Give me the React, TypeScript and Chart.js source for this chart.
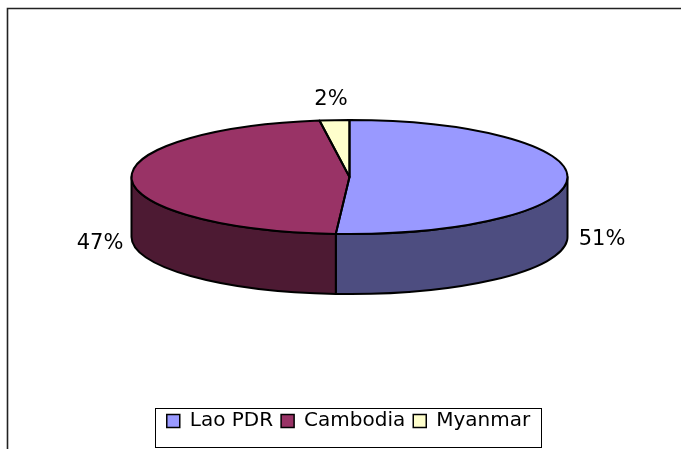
import React, { useEffect, useRef } from "react";
import { Chart, registerables } from "chart.js";

Chart.register(...registerables);

const categories = ["Lao PDR", "Cambodia", "Myanmar"];
const values = [51, 46.8, 2.2];
const topColors = ["#9999FF", "#993366", "#FFFFCC"];
const sideColors = ["#4D4D80", "#4D1A33", "#808066"];

const CX = 349.5;
const CY = 177;
const RX = 218;
const RY = 57;
const DEPTH = 60;

const pctFont = '21px "DejaVu Sans"';
const labelAnchors = [
  { x: 602, y: 240 },
  { x: 100, y: 244 },
  { x: 331, y: 100 },
];

const pie3d = {
  id: "pie3d",
  beforeDraw(chart: any) {
    const ctx = chart.ctx;
    ctx.save();
    ctx.strokeStyle = "#222";
    ctx.lineWidth = 1.6;
    ctx.beginPath();
    ctx.moveTo(7.5, 449);
    ctx.lineTo(7.5, 8.5);
    ctx.lineTo(681, 8.5);
    ctx.stroke();
    ctx.restore();
  },
  beforeDatasetsDraw(chart: any) {
    const ctx = chart.ctx;
    const arcs = chart.getDatasetMeta(0).data;
    ctx.save();
    ctx.lineWidth = 2;
    ctx.strokeStyle = "#000";
    ctx.lineJoin = "round";
    arcs.forEach((arc: any, i: number) => {
      const a1 = Math.max(arc.startAngle, 0);
      const a2 = Math.min(arc.endAngle, Math.PI);
      if (a2 <= a1) return;
      ctx.beginPath();
      ctx.ellipse(CX, CY, RX, RY, 0, a1, a2);
      ctx.lineTo(CX + RX * Math.cos(a2), CY + RY * Math.sin(a2) + DEPTH);
      ctx.ellipse(CX, CY + DEPTH, RX, RY, 0, a2, a1, true);
      ctx.closePath();
      ctx.fillStyle = sideColors[i];
      ctx.fill();
      ctx.stroke();
    });
    ctx.restore();
  },
  beforeDatasetDraw(chart: any) {
    const ctx = chart.ctx;
    const arc = chart.getDatasetMeta(0).data[0];
    ctx.save();
    ctx.translate(CX, CY);
    ctx.scale(RX / arc.outerRadius, RY / arc.outerRadius);
    ctx.translate(-arc.x, -arc.y);
  },
  afterDatasetDraw(chart: any) {
    const ctx = chart.ctx;
    ctx.restore();
    const arcs = chart.getDatasetMeta(0).data;
    ctx.save();
    ctx.lineWidth = 2;
    ctx.strokeStyle = "#000";
    ctx.lineJoin = "round";
    arcs.forEach((arc: any) => {
      ctx.beginPath();
      ctx.moveTo(CX, CY);
      ctx.ellipse(CX, CY, RX, RY, 0, arc.startAngle, arc.endAngle);
      ctx.closePath();
      ctx.stroke();
    });
    ctx.restore();
  },
  afterDatasetsDraw(chart: any) {
    const ctx = chart.ctx;
    ctx.save();
    ctx.font = pctFont;
    ctx.fillStyle = "#000";
    ctx.textAlign = "center";
    ctx.textBaseline = "middle";
    values.forEach((v, i) => {
      ctx.fillText(`${Math.round(v)}%`, labelAnchors[i].x, labelAnchors[i].y);
    });
    ctx.restore();
  },
  afterDraw(chart: any) {
    const boxes = chart.legend.legendHitBoxes;
    const ctx = chart.ctx;
    const first = boxes[0];
    const last = boxes[boxes.length - 1];
    ctx.save();
    ctx.strokeStyle = "#000";
    ctx.lineWidth = 1;
    ctx.strokeRect(155.5, 408.5, 386, 39);
    ctx.restore();
    void first;
    void last;
  },
};

export default function App() {
  const ref = useRef<HTMLCanvasElement>(null);
  useEffect(() => {
    document.body.style.margin = "0";
    const chart = new Chart(ref.current!, {
      type: "pie",
      data: {
        labels: categories,
        datasets: [
          {
            data: values,
            backgroundColor: topColors,
            borderWidth: 0,
          },
        ],
      },
      plugins: [pie3d],
      options: {
        responsive: false,
        animation: false,
        layout: { padding: { left: 16, right: 0, top: 0, bottom: 8 } },
        plugins: {
          tooltip: { enabled: false },
          legend: {
            position: "bottom",
            labels: {
              boxWidth: 13,
              boxHeight: 13,
              padding: 8,
              color: "#000",
              font: { family: '"DejaVu Sans"', size: 20 },
              generateLabels: (c: any) =>
                categories.map((t, i) => ({
                  text: t,
                  fillStyle: topColors[i],
                  strokeStyle: "#000",
                  lineWidth: 1.5,
                  hidden: false,
                  index: i,
                })),
            },
          },
        },
      },
    } as any);
    return () => chart.destroy();
  }, []);
  return <canvas ref={ref} width={681} height={449} style={{ display: "block" }} />;
}
